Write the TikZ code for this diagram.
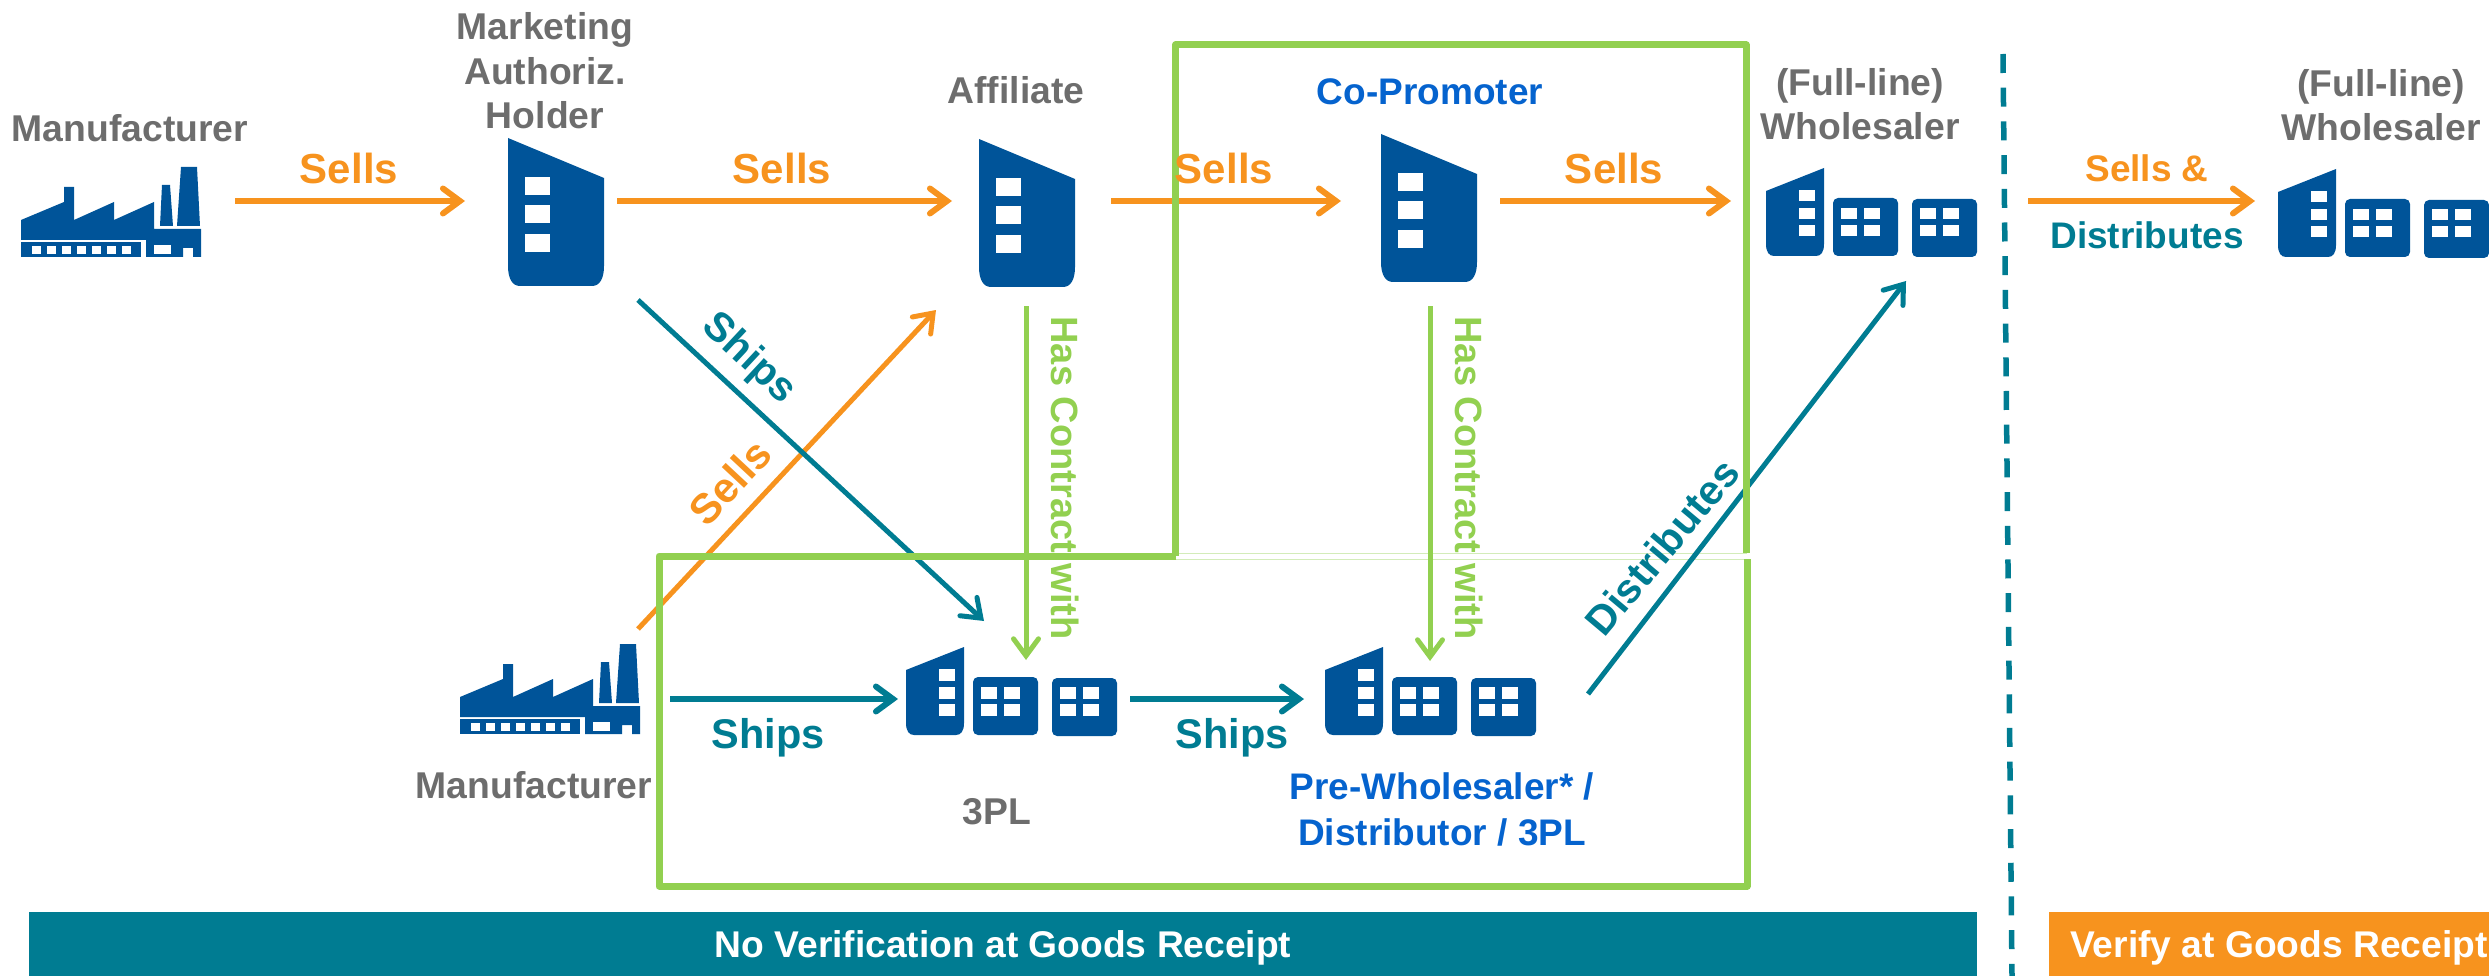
\documentclass[tikz,border=0pt]{standalone}
\usepackage{fontspec}
\setmainfont{Liberation Sans}
\usetikzlibrary{arrows.meta}
\definecolor{iconblue}{HTML}{005499}
\definecolor{textblue}{HTML}{0563CE}
\definecolor{labelgrey}{HTML}{6D6D6D}
\definecolor{sellorange}{HTML}{F7931E}
\definecolor{shipteal}{HTML}{007C92}
\definecolor{boxgreen}{HTML}{92D050}
\tikzset{
  lbl/.style={font=\bfseries\fontsize{37.3}{44.5}\selectfont,text=labelgrey,align=center,inner sep=0pt,anchor=base},
  bluelbl/.style={lbl,text=textblue,font=\bfseries\fontsize{37}{46}\selectfont},
  sellslbl/.style={lbl,text=sellorange,font=\bfseries\fontsize{42}{46}\selectfont},
  shipslbl/.style={lbl,text=shipteal,font=\bfseries\fontsize{41.5}{46}\selectfont},
  contractlbl/.style={lbl,text=boxgreen,anchor=center,rotate=-90,font=\bfseries\fontsize{38}{44}\selectfont},
  flow/.style={line width=6pt,-{Straight Barb[length=17pt,width=25pt,line cap=round]}},
  sells/.style={flow,draw=sellorange},
  ships/.style={flow,draw=shipteal},
  contract/.style={flow,draw=boxgreen,line width=5pt},
  banner/.style={inner sep=0pt,outer sep=0pt,text=white,text height=26pt,text depth=0pt,font=\bfseries\fontsize{37.2}{44}\selectfont},
  pics/factory/.style={code={
    \fill[iconblue] (0,-17) -- (0,-37) -- (43,-55) -- (43,-70) -- (53,-70) -- (53,-37) -- (93,-55) -- (93,-37)
      -- (133,-55) -- (133,-28) -- (180,-28) -- (180,0) -- (172,0) -- (172,-9) -- (162,-9) -- (162,0)
      -- (125,0) -- (125,-17) -- cycle;
    \fill[iconblue] (0,-15) rectangle (120,0);
    \fill[iconblue] (141,-72) -- (149,-72) -- (152,-31) -- (139,-31) -- cycle;
    \fill[iconblue] (160,-90) -- (176,-90) -- (179,-31) -- (156,-31) -- cycle;
    \fill[white] (133,-12) rectangle (150,-3);
    \foreach \wx in {11,26,41,56,71,86,101}
      \fill[white] (\wx,-11) rectangle +(8.5,8);
  }},
  pics/tower/.style={code={
    \fill[iconblue] (0,-148) -- (96,-108) -- (96,-20) .. controls (96,-8) and (92,0) .. (84,0)
      -- (12,0) .. controls (4,0) and (0,-8) .. (0,-20) -- cycle;
    \foreach \wy in {-109,-81,-52}
      \fill[white] (17,\wy) rectangle +(25,18.5);
  }},
  pics/wholesale/.style={code={
    \fill[iconblue] (0,-65) -- (58,-88) -- (58,-12) .. controls (58,-4) and (55,0) .. (50,0)
      -- (8,0) .. controls (3,0) and (0,-4) .. (0,-12) -- cycle;
    \fill[iconblue,rounded corners=5pt] (67,-58) rectangle (132,0);
    \fill[iconblue,rounded corners=5pt] (146,-57) rectangle (211,1);
    \foreach \wy in {-66,-48,-31}
      \fill[white] (33,\wy) rectangle +(16,11.5);
    \foreach \wx in {75,98,154,177}
      \foreach \wy in {-48,-31}
        \fill[white] (\wx,\wy) rectangle +(16,11.5);
  }}
}
\begin{document}
\begin{tikzpicture}[x=1pt,y=-1pt]
  \useasboundingbox (0,0) rectangle (2489,976);
  % icons
  \pic at (21,257) {factory};
  \pic at (460,734) {factory};
  \pic at (508,286) {tower};
  \pic at (979,287) {tower};
  \pic at (1381,282) {tower};
  \pic at (1766,256) {wholesale};
  \pic at (2278,257) {wholesale};
  \pic at (906,735) {wholesale};
  \pic at (1325,735) {wholesale};
  % named ends of the connectors
  \coordinate (mfrOut) at (235,201);
  \coordinate (mahIn) at (465,201);
  \coordinate (mahOut) at (617,201);
  \coordinate (affIn) at (952,201);
  \coordinate (affOut) at (1111,201);
  \coordinate (coproIn) at (1341,201);
  \coordinate (coproOut) at (1500,201);
  \coordinate (wsIn) at (1731,201);
  \coordinate (wsOut) at (2028,201);
  \coordinate (wsbIn) at (2255,201);
  \coordinate (mfrbOut) at (670,699);
  \coordinate (tplIn) at (898,699);
  \coordinate (tplOut) at (1130,699);
  \coordinate (preIn) at (1304,699);
  \coordinate (mfrbUp) at (638,629);
  \coordinate (affLow) at (936,310);
  \coordinate (mahLow) at (638,300);
  \coordinate (tplUp) at (984,621);
  \coordinate (affDown) at (1026,306);
  \coordinate (tplTop) at (1026,660);
  \coordinate (coproDown) at (1430,306);
  \coordinate (preTop) at (1430,661);
  \coordinate (preOut) at (1588,694);
  \coordinate (wsLow) at (1906,281);
  % seam between the two frames
  \draw[boxgreen!40,line width=7pt] (1176,556) -- (1747,556);
  \draw[white,line width=5pt] (1176,556) -- (1747,556);
  % connectors
  \draw[sells] (mfrOut) -- (mahIn);
  \draw[sells] (mahOut) -- (affIn);
  \draw[sells] (affOut) -- (coproIn);
  \draw[sells] (coproOut) -- (wsIn);
  \draw[sells] (wsOut) -- (wsbIn);
  \draw[sells,line width=5pt] (mfrbUp) -- (affLow);
  \draw[ships,line width=5pt] (mahLow) -- (tplUp);
  \draw[ships] (mfrbOut) -- (tplIn);
  \draw[ships] (tplOut) -- (preIn);
  \draw[ships,line width=5pt] (preOut) -- (wsLow);
  \draw[contract] (affDown) -- (tplTop);
  \draw[contract] (coproDown) -- (preTop);
  % frames
  \draw[boxgreen,line width=7pt,line join=round] (1175.5,556) -- (1175.5,45) -- (1746,45) -- (1746,553);
  \draw[boxgreen,line width=7pt,line join=round] (1176,556) -- (659,556) -- (659,886) -- (1747,886) -- (1747,559);
  % labels
  \node[lbl] (mfrlbl) at (130,142) {Manufacturer};
  \node[lbl] (mahlbl) at (545,129) {Marketing\\Authoriz.\\Holder};
  \node[lbl] (afflbl) at (1016,104) {Affiliate};
  \node[bluelbl] (coprolbl) at (1430,105) {Co-Promoter};
  \node[lbl] (wslbl) at (1860,140) {(Full-line)\\Wholesaler};
  \node[lbl] (wsblbl) at (2381,141) {(Full-line)\\Wholesaler};
  \node[lbl] (mfrblbl) at (534,798) {Manufacturer};
  \node[lbl] (tpllbl) at (997,824) {3PL};
  \node[bluelbl] (prelbl) at (1442,845) {Pre-Wholesaler* /\\Distributor / 3PL};
  \node[sellslbl] (sellsa) at (349,184) {Sells};
  \node[sellslbl] (sellsb) at (782,184) {Sells};
  \node[sellslbl] (sellsc) at (1224,184) {Sells};
  \node[sellslbl] (sellsd) at (1614,184) {Sells};
  \node[sellslbl,font=\bfseries\fontsize{37}{44}\selectfont] (sellse) at (2147,182) {Sells \&};
  \node[shipslbl,font=\bfseries\fontsize{37}{44}\selectfont] (distlbl) at (2147,249) {Distributes};
  \node[shipslbl] (shipsa) at (768,748) {Ships};
  \node[shipslbl] (shipsb) at (1232,748) {Ships};
  \node[shipslbl,font=\bfseries\fontsize{41}{44}\selectfont,anchor=center,rotate=-43] (shipsc) at (749,359) {Ships};
  \node[sellslbl,anchor=center,rotate=47] (sellsf) at (730,482) {Sells};
  \node[shipslbl,font=\bfseries\fontsize{41}{44}\selectfont,anchor=center,rotate=50] (distb) at (1662,547) {Distributes};
  \node[contractlbl] (hasa) at (1065,478) {Has Contract with};
  \node[contractlbl] (hasb) at (1469,478) {Has Contract with};
  % divider and banners
  \coordinate (divTop) at (2003,54);
  \coordinate (divEnd) at (2012,976);
  \draw[shipteal,line width=5.5pt,dash pattern=on 19pt off 14.7pt] (divTop) -- (divEnd);
  \node[banner,fill=shipteal,minimum width=1948pt,minimum height=64pt] (nover) at (1003,944) {No Verification at Goods Receipt};
  \node[banner,fill=sellorange,minimum width=440pt,minimum height=64pt] (verify) at (2269,944) {\hspace{20pt}Verify at Goods Receipt};
\end{tikzpicture}
\end{document}
